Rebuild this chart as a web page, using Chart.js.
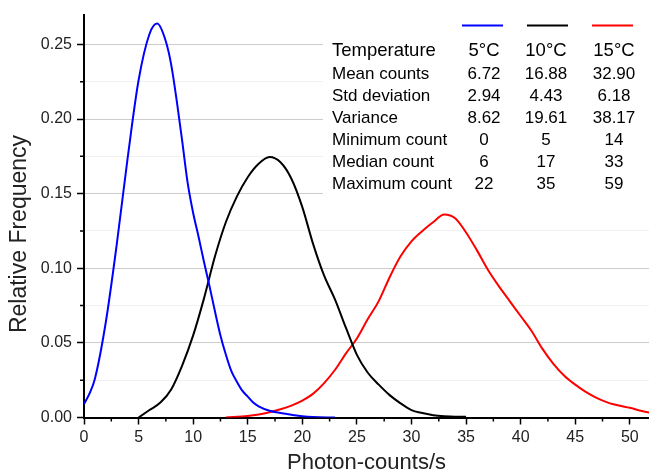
<!DOCTYPE html>
<html>
<head>
<meta charset="utf-8">
<script src="https://cdn.jsdelivr.net/npm/chart.js@4"></script>
<style>
  html, body { margin: 0; padding: 0; background: #fff; }
  #wrap { width: 649px; height: 476px; }
</style>
</head>
<body>
<div id="wrap"><canvas id="chart"></canvas></div>
<script>
const FONT = "'Liberation Sans', Arial, sans-serif";

// 5°C curve
const x5 = [0, 0.5, 1, 2, 3, 4, 5, 6, 6.7, 7.5, 8, 8.5, 9, 9.5, 10, 10.5, 11, 11.5, 12, 12.5, 13, 13.5, 14, 14.5, 15, 15.5, 16, 17, 18, 19, 20, 21, 23];
const y5 = [0.009, 0.016, 0.026, 0.064, 0.116, 0.174, 0.226, 0.257, 0.264, 0.252, 0.236, 0.212, 0.185, 0.157, 0.137, 0.121, 0.104, 0.088, 0.071, 0.055, 0.042, 0.031, 0.024, 0.018, 0.014, 0.010, 0.0075, 0.0045, 0.003, 0.0018, 0.0008, 0.0003, 0];

// 10°C curve
const x10 = [5, 6, 7, 8, 9, 10, 11, 12, 13, 14, 15, 16, 17, 18, 19, 20, 21, 22, 23, 24, 25, 26, 27, 28, 29, 30, 31, 32, 33, 34, 35];
const y10 = [0, 0.005, 0.010, 0.019, 0.035, 0.055, 0.080, 0.108, 0.131, 0.148, 0.161, 0.170, 0.1745, 0.171, 0.160, 0.141, 0.116, 0.095, 0.079, 0.060, 0.042, 0.030, 0.022, 0.015, 0.0095, 0.005, 0.003, 0.0015, 0.0008, 0.0005, 0.0005];

// 15°C curve
const x15 = [13, 15, 16, 17, 18, 19, 20, 21, 22, 23, 24, 25, 26, 27, 28, 29, 30, 31, 32, 33, 34, 35, 36, 37, 38, 39, 40, 41, 42, 43, 44, 45, 46, 47, 48, 49, 50, 51, 52, 55, 59];
const y15 = [0, 0.001, 0.002, 0.0035, 0.0055, 0.008, 0.0113, 0.016, 0.023, 0.032, 0.043, 0.053, 0.066, 0.078, 0.094, 0.108, 0.118, 0.125, 0.131, 0.136, 0.1335, 0.124, 0.112, 0.099, 0.088, 0.078, 0.068, 0.058, 0.046, 0.036, 0.028, 0.022, 0.017, 0.013, 0.010, 0.008, 0.0065, 0.0045, 0.003, 0.001, 0];

// statistics table
const temps = ['5°C', '10°C', '15°C'];
const statLabels = ['Mean counts', 'Std deviation', 'Variance', 'Minimum count', 'Median count', 'Maximum count'];
const stats5 = ['6.72', '2.94', '8.62', '0', '6', '22'];
const stats10 = ['16.88', '4.43', '19.61', '5', '17', '35'];
const stats15 = ['32.90', '6.18', '38.17', '14', '33', '59'];
const colors = ['#0000ff', '#000000', '#ff0000'];

function points(xs, ys) {
    return xs.map((x, i) => ({ x: x, y: ys[i] }));
}

// short minor tick marks (Chart.js only has one tick length)
const minorTicks = {
    id: 'minorTicks',
    afterDraw(chart) {
        const c = chart.ctx;
        const xs = chart.scales.x;
        const ys = chart.scales.y;
        c.save();
        c.strokeStyle = '#000';
        c.lineWidth = 1.5;
        c.beginPath();
        xs.ticks.forEach((t, i) => {
            if (i % 2 === 1) {
                const px = xs.getPixelForTick(i);
                c.moveTo(px, xs.top);
                c.lineTo(px, xs.top + 4);
            }
        });
        ys.ticks.forEach((t, i) => {
            if (i % 2 === 1) {
                const py = ys.getPixelForTick(i);
                c.moveTo(ys.right, py);
                c.lineTo(ys.right - 4, py);
            }
        });
        c.stroke();
        c.restore();
    }
};

const statsTable = {
    id: 'statsTable',
    afterDatasetsDraw(chart) {
        const c = chart.ctx;
        const cols = [484, 546, 614];
        const lineStart = [462, 527, 592];
        const columns = [stats5, stats10, stats15];
        c.save();
        c.fillStyle = '#fff';
        c.fillRect(323, 12, 326, 188);

        colors.forEach((col, i) => {
            c.strokeStyle = col;
            c.lineWidth = 2;
            c.beginPath();
            c.moveTo(lineStart[i], 25.5);
            c.lineTo(lineStart[i] + 41, 25.5);
            c.stroke();
        });

        c.fillStyle = '#000';
        c.textBaseline = 'alphabetic';
        c.font = '18.5px ' + FONT;
        c.textAlign = 'left';
        c.fillText('Temperature', 332, 56);
        c.textAlign = 'center';
        temps.forEach((t, i) => c.fillText(t, cols[i], 56));

        c.font = '17px ' + FONT;
        statLabels.forEach((label, r) => {
            const y = 78.6 + r * 22.1;
            c.textAlign = 'left';
            c.fillText(label, 332, y);
            c.textAlign = 'center';
            columns.forEach((col, i) => c.fillText(col[r], cols[i], y));
        });

        // y axis title
        c.translate(20, 234);
        c.rotate(-Math.PI / 2);
        c.font = '23px ' + FONT;
        c.fillStyle = '#222';
        c.textAlign = 'center';
        c.textBaseline = 'middle';
        c.fillText('Relative Frequency', 0, 0);
        c.restore();
    }
};

const lineStyle = {
    showLine: true,
    pointRadius: 0,
    borderWidth: 2,
    tension: 0.4,
    cubicInterpolationMode: 'monotone',
    fill: false
};

const majorTickColor = ctx => (ctx.index % 2 === 0 ? '#000' : 'rgba(0,0,0,0)');

const chart = new Chart(document.getElementById('chart'), {
    type: 'scatter',
    data: {
        datasets: [
            Object.assign({ label: temps[0], data: points(x5, y5), borderColor: colors[0] }, lineStyle),
            Object.assign({ label: temps[1], data: points(x10, y10), borderColor: colors[1] }, lineStyle),
            Object.assign({ label: temps[2], data: points(x15, y15), borderColor: colors[2] }, lineStyle)
        ]
    },
    options: {
        responsive: true,
        maintainAspectRatio: false,
        animation: false,
        devicePixelRatio: 1,
        layout: { padding: { top: 11, left: 0, right: 0, bottom: 0 } },
        plugins: {
            legend: { display: false },
            tooltip: { enabled: false }
        },
        scales: {
            x: {
                type: 'linear',
                min: 0,
                max: 51.76,
                afterFit: scale => { scale.height = 58.5; },
                border: { color: '#000', width: 2 },
                grid: {
                    drawOnChartArea: false,
                    drawTicks: true,
                    tickLength: 7,
                    tickColor: majorTickColor,
                    tickWidth: 1.5
                },
                ticks: {
                    stepSize: 2.5,
                    autoSkip: false,
                    maxRotation: 0,
                    includeBounds: false,
                    maxTicksLimit: 100,
                    padding: 3,
                    color: '#222',
                    font: { family: FONT, size: 16 },
                    callback: (v, i) => (i % 2 === 0 ? String(v) : '')
                },
                title: {
                    display: true,
                    text: 'Photon-counts/s',
                    color: '#222',
                    font: { family: FONT, size: 22 },
                    padding: { top: 0, bottom: 0 }
                }
            },
            y: {
                min: 0,
                max: 0.27,
                afterFit: scale => { scale.width = 84; },
                border: { color: '#000', width: 2 },
                grid: {
                    color: ctx => (ctx.index % 2 === 0 ? '#cccccc' : '#f1f1f1'),
                    lineWidth: 1,
                    drawTicks: true,
                    tickLength: 7,
                    tickColor: majorTickColor,
                    tickWidth: 1.5
                },
                ticks: {
                    stepSize: 0.025,
                    autoSkip: false,
                    includeBounds: false,
                    maxTicksLimit: 100,
                    padding: 5,
                    color: '#222',
                    font: { family: FONT, size: 16 },
                    callback: (v, i) => (i % 2 === 0 ? v.toFixed(2) : '')
                }
            }
        }
    },
    plugins: [statsTable, minorTicks]
});
</script>
</body>
</html>
